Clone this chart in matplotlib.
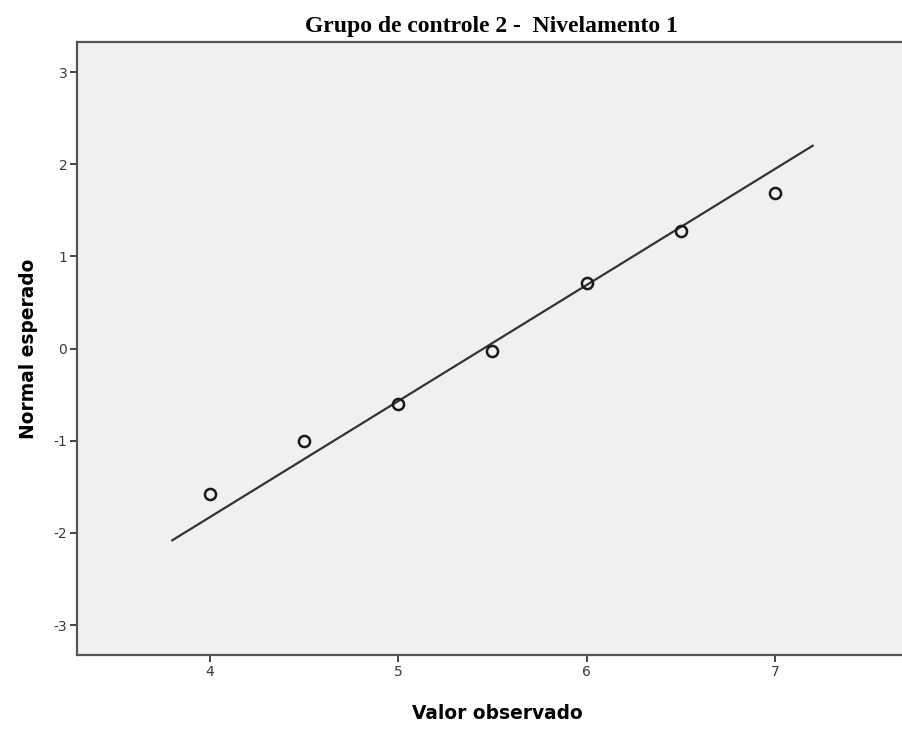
import matplotlib.pyplot as plt

plt.rcParams['axes.unicode_minus'] = False

# Q-Q plot data
valor_observado = [4.0, 4.5, 5.0, 5.5, 6.0, 6.5, 7.0]
normal_esperado = [-1.58, -1.00, -0.60, -0.03, 0.71, 1.27, 1.69]

# reference line endpoints
linha_x = [3.8, 7.2]
linha_y = [-2.08, 2.20]

x_ticks = [4, 5, 6, 7]
y_ticks = [-3, -2, -1, 0, 1, 2, 3]

fig = plt.figure(figsize=(9.03, 7.3), dpi=100)
ax = fig.add_axes([0.0853, 0.1027, 0.93, 0.8397])
ax.set_facecolor('#f0f0f0')

ax.plot(linha_x, linha_y, '-', color='#333333', linewidth=1.6, zorder=2)
ax.plot(valor_observado, normal_esperado, 'o', markerfacecolor='none',
        markeredgecolor='#1a1a1a', markeredgewidth=1.8, markersize=8, zorder=3)

ax.set_xlim(3.294, 7.753)
ax.set_ylim(-3.325, 3.325)
ax.set_xticks(x_ticks)
ax.set_yticks(y_ticks)

for s in ['left', 'bottom', 'top']:
    ax.spines[s].set_color('#555555')
    ax.spines[s].set_linewidth(1.6)
ax.spines['right'].set_visible(False)

ax.tick_params(axis='both', length=5, width=1.4, color='#444444',
               labelsize=10, labelcolor='#3a3a3a', pad=2)

ax.set_title('Grupo de controle 2 -  Nivelamento 1', family='Liberation Serif',
             fontweight='bold', fontsize=17, pad=7, x=0.494)
ax.set_xlabel('Valor observado', fontweight='bold', fontsize=13.4, labelpad=18)
ax.set_ylabel('Normal esperado', fontweight='bold', fontsize=13.4, labelpad=11)

fig.savefig('out.png', dpi=100)
